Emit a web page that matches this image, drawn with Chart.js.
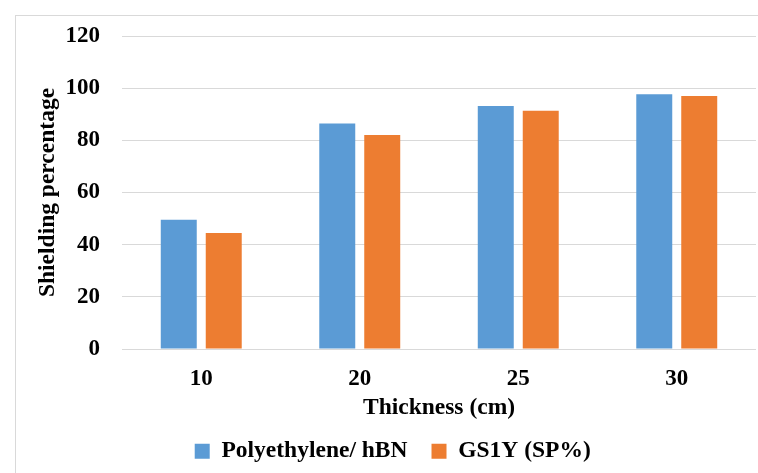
<!DOCTYPE html>
<html>
<head>
<meta charset="utf-8">
<script src="https://cdn.jsdelivr.net/npm/chart.js@4"></script>
<style>
  html, body { margin: 0; padding: 0; background: #ffffff; overflow: hidden; }
  #wrap { width: 758px; height: 473px; position: relative; }
</style>
</head>
<body>
<div id="wrap"><canvas id="c" width="758" height="473"></canvas></div>
<script>
const categories = ["10", "20", "25", "30"];
const polyethyleneValues = [49.6, 86.5, 93.2, 97.7];
const gs1yValues = [44.5, 82.0, 91.3, 97.0];
const seriesNames = ["Polyethylene/ hBN", "GS1Y (SP%)"];
const yTicks = [0, 20, 40, 60, 80, 100, 120];
const xTitle = "Thickness (cm)";
const yTitle = "Shielding percentage";

const FONT = "'Liberation Serif', 'Times New Roman', serif";
const GRID = "#D9D9D9";

const framePlugin = {
  id: "frame",
  beforeDraw(chart) {
    const ctx = chart.ctx;
    ctx.save();
    ctx.strokeStyle = GRID;
    ctx.lineWidth = 1;
    ctx.strokeRect(15.5, 15.5, chart.width + 20, chart.height + 20);
    ctx.restore();
  }
};

new Chart(document.getElementById("c"), {
  type: "bar",
  data: {
    labels: categories,
    datasets: [
      { label: seriesNames[0], data: polyethyleneValues, backgroundColor: "#5B9BD5", borderWidth: 0 },
      { label: seriesNames[1], data: gs1yValues, backgroundColor: "#ED7D31", borderWidth: 0 }
    ]
  },
  options: {
    responsive: false,
    animation: false,
    devicePixelRatio: 1,
    categoryPercentage: 0.5675,
    barPercentage: 0.8,
    layout: { padding: { left: 29.5, right: 2, top: 36, bottom: 0 } },
    plugins: {
      tooltip: { enabled: false },
      legend: {
        position: "bottom",
        labels: {
          boxWidth: 15,
          boxHeight: 15,
          padding: 24,
          color: "#000",
          font: { family: FONT, size: 23.5, weight: "bold" }
        }
      }
    },
    scales: {
      x: {
        afterFit(scale) { scale.height = 66.5; },
        grid: { display: false, drawTicks: false },
        border: { display: false },
        ticks: { padding: 16.2, color: "#000", font: { family: FONT, size: 23, weight: "bold" } },
        title: {
          display: true, text: xTitle, color: "#000",
          padding: { top: 1.7, bottom: -6.6 },
          font: { family: FONT, size: 23.5, weight: "bold" }
        }
      },
      y: {
        min: 0, max: 120,
        afterBuildTicks(scale) { scale.ticks = yTicks.map(v => ({ value: v })); },
        afterFit(scale) { scale.width = 92.5; },
        grid: { color: GRID, lineWidth: 1, drawTicks: false },
        border: { display: false },
        ticks: { padding: 22, color: "#000", font: { family: FONT, size: 23, weight: "bold" } },
        title: {
          display: true, text: yTitle, color: "#000",
          padding: { top: 4.4, bottom: 0 },
          font: { family: FONT, size: 23.5, weight: "bold" }
        }
      }
    }
  },
  plugins: [framePlugin]
});
</script>
</body>
</html>
